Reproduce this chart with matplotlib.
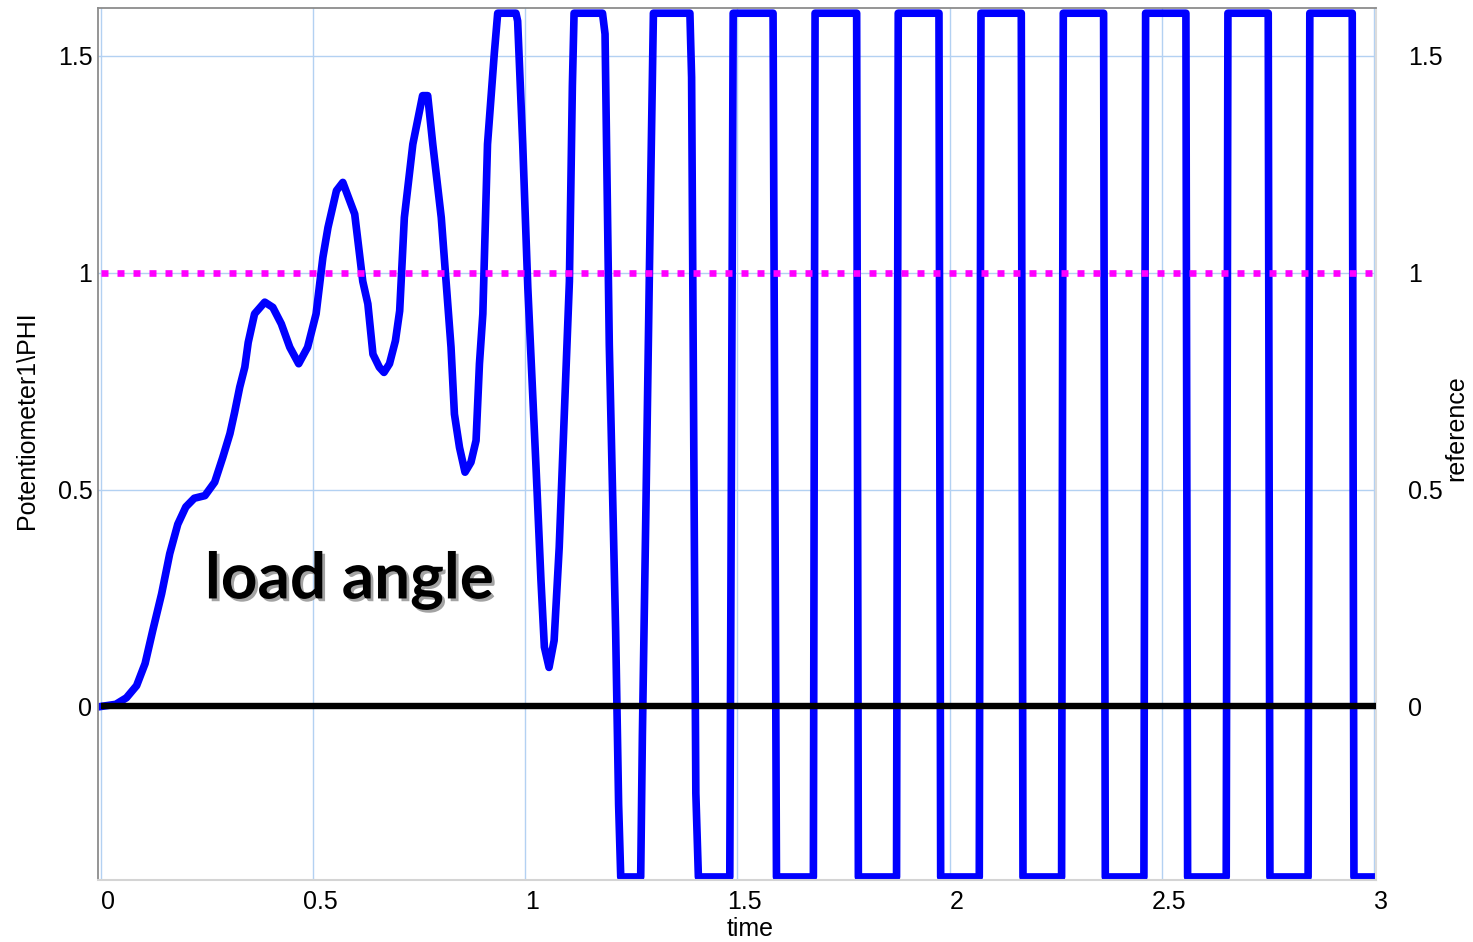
import numpy as np
import matplotlib
matplotlib.use("Agg")
import matplotlib.pyplot as plt
import matplotlib.patheffects as pe
import matplotlib.transforms as mtransforms

plt.rcParams['font.family'] = ['Liberation Sans', 'DejaVu Sans']

# load angle (Potentiometer1\PHI); flat parts are where it leaves the plot range
time = [0.0, 0.035, 0.06, 0.084, 0.104, 0.122, 0.143, 0.162, 0.181, 0.2,
        0.22, 0.245, 0.268, 0.287, 0.304, 0.315, 0.327, 0.339, 0.347, 0.362,
        0.386, 0.405, 0.425, 0.445, 0.466, 0.487, 0.507, 0.523, 0.535, 0.555,
        0.57, 0.598, 0.617, 0.629, 0.641, 0.656, 0.667, 0.68, 0.694, 0.704,
        0.715, 0.735, 0.758, 0.77, 0.782, 0.802, 0.825, 0.833, 0.845, 0.858,
        0.872, 0.884, 0.892, 0.9, 0.911, 0.927, 0.935, 0.978, 0.982, 0.994,
        1.006, 1.025, 1.037, 1.045, 1.056, 1.068, 1.08, 1.092, 1.104, 1.111,
        1.115, 1.182, 1.188, 1.198, 1.213, 1.22, 1.225, 1.272, 1.276, 1.284,
        1.296, 1.302, 1.388, 1.392, 1.402, 1.408, 1.482, 1.49, 1.584, 1.592,
        1.679, 1.683, 1.781, 1.785, 1.875, 1.879, 1.975, 1.979, 2.07, 2.074,
        2.169, 2.173, 2.264, 2.268, 2.363, 2.367, 2.458, 2.462, 2.557, 2.561,
        2.652, 2.656, 2.751, 2.755, 2.845, 2.849, 2.949, 2.953, 3.01]
phi = [0.0, 0.005, 0.02, 0.048, 0.099, 0.175, 0.26, 0.352, 0.42, 0.46,
       0.48, 0.486, 0.517, 0.574, 0.629, 0.678, 0.736, 0.782, 0.839, 0.905,
       0.932, 0.92, 0.882, 0.828, 0.79, 0.828, 0.905, 1.035, 1.104, 1.189,
       1.208, 1.135, 0.98, 0.928, 0.812, 0.782, 0.77, 0.79, 0.843, 0.912,
       1.127, 1.296, 1.408, 1.408, 1.296, 1.127, 0.828, 0.674, 0.597, 0.54,
       0.563, 0.613, 0.79, 0.905, 1.296, 1.505, 1.598, 1.598, 1.58, 1.296,
       0.965, 0.559, 0.29, 0.137, 0.09, 0.152, 0.367, 0.674, 0.98, 1.43,
       1.598, 1.598, 1.55, 0.834, 0.173, -0.226, -0.393, -0.393, -0.067, 0.436,
       1.23, 1.598, 1.598, 1.45, -0.2, -0.393, -0.393, 1.598, 1.598, -0.393,
       -0.393, 1.598, 1.598, -0.393, -0.393, 1.598, 1.598, -0.393, -0.393, 1.598,
       1.598, -0.393, -0.393, 1.598, 1.598, -0.393, -0.393, 1.598, 1.598, -0.393,
       -0.393, 1.598, 1.598, -0.393, -0.393, 1.598, 1.598, -0.393, -0.393]

# reference and zero line
ref_t = [0.0, 3.01]
ref_val = [1.0, 1.0]
zero_t = [0.0, 3.01]
zero_val = [0.0, 0.0]

xticks = [0, 0.5, 1, 1.5, 2, 2.5, 3]
xtick_labels = ['0', '0.5', '1', '1.5', '2', '2.5', '3']
yticks = [0, 0.5, 1, 1.5]
ytick_labels = ['0', '0.5', '1', '1.5']

fig = plt.figure(figsize=(14.73, 9.42), dpi=100)
ax = fig.add_axes([98 / 1473, 1 - 880 / 942, 1278 / 1473, 872 / 942])

ax.plot(time, phi, color='#0000ff', lw=5.5, solid_joinstyle='round', zorder=2)
ax.plot(zero_t, zero_val, color='black', lw=4.6, solid_capstyle='butt', zorder=3)
ax.plot(ref_t, ref_val, color='#ff00ff', lw=4.8, linestyle=(0, (1.05, 1.35)),
        dash_capstyle='butt', zorder=4)

ax.set_xlim(-0.007, 3.005)
ax.set_ylim(-0.4, 1.61)
ax.set_xticks(xticks)
ax.set_xticklabels(xtick_labels)
ax.set_yticks(yticks)
ax.set_yticklabels(ytick_labels)
ax.grid(True, color='#b3d1f2', lw=1.0, zorder=0)
ax.tick_params(axis='both', length=0, labelsize=18)
ax.tick_params(axis='x', pad=7)
ax.tick_params(axis='y', pad=4)

# x tick labels sit a bit to the right of their gridlines
offset = mtransforms.ScaledTranslation(7 / 100, 0, fig.dpi_scale_trans)
for lbl in ax.get_xticklabels():
    lbl.set_transform(lbl.get_transform() + offset)

ax.spines['top'].set_color('#8c8c8c')
ax.spines['left'].set_color('#8c8c8c')
ax.spines['top'].set_linewidth(1.3)
ax.spines['left'].set_linewidth(1.3)
ax.spines['bottom'].set_color('#d4d4d4')
ax.spines['right'].set_color('#dcdcdc')
ax.spines['bottom'].set_linewidth(1.5)
ax.spines['right'].set_linewidth(1.5)

ax.set_xlabel('time', fontsize=18)
ax.xaxis.set_label_coords(0.51, -0.056)
ax.xaxis.label.set_va('center')
ax.set_ylabel('Potentiometer1\\PHI', fontsize=18)
ax.yaxis.set_label_coords(-0.0556, 0.5275)
ax.yaxis.label.set_va('center')

ax2 = ax.twinx()
ax2.set_ylim(ax.get_ylim())
ax2.set_yticks(yticks)
ax2.set_yticklabels(ytick_labels)
ax2.tick_params(axis='y', length=0, labelsize=18, pad=23)
for s in ax2.spines.values():
    s.set_visible(False)
ax2.set_ylabel('reference', fontsize=18)
ax2.yaxis.set_label_coords(1.0626, 0.518)
ax2.yaxis.label.set_va('center')

ax.text(0.245, 0.249, 'load angle', fontsize=46, family=['Lato', 'DejaVu Sans'],
        weight='bold', ha='left', va='baseline', zorder=5,
        path_effects=[pe.SimplePatchShadow(offset=(2, -2), shadow_rgbFace='0.6', alpha=0.9),
                      pe.Normal()])

fig.savefig('out.png', dpi=100)
